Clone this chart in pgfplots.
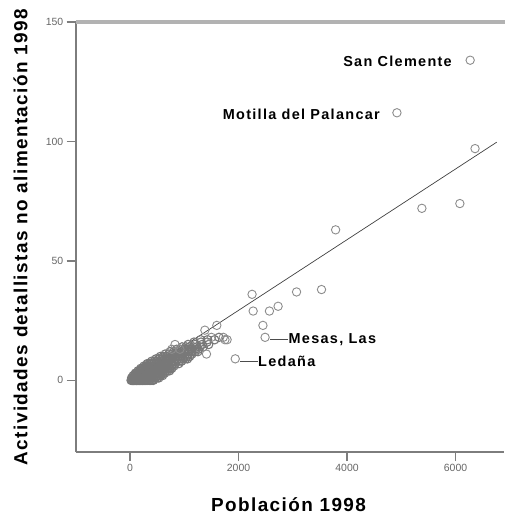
\documentclass[border=0pt]{standalone}
\usepackage{fontspec}
\setmainfont{Liberation Sans}
\newfontfamily\spaced[LetterSpace=7.5]{Liberation Sans}
\newfontfamily\lblfont[LetterSpace=9]{Liberation Sans}
\usepackage{pgfplots}
\pgfplotsset{compat=1.18}

\definecolor{axgray}{RGB}{125,125,125}
\definecolor{topgray}{RGB}{178,178,178}
\definecolor{markgray}{RGB}{120,120,120}

% municipios: poblacion 1998, actividades detallistas no alimentacion 1998
\pgfplotstableread{
x y
20 0
45 0
70 0
95 0
120 0
150 0
180 0
210 0
250 0
290 0
330 0
380 0
430 0
30 1
60 1
90 1
120 1
160 1
200 1
240 1
290 1
340 1
400 1
470 1
530 1
60 2
100 2
140 2
180 2
230 2
280 2
330 2
390 2
450 2
520 2
600 2
100 3
150 3
200 3
250 3
300 3
360 3
420 3
490 3
560 3
640 3
150 4
200 4
260 4
320 4
380 4
440 4
510 4
580 4
660 4
730 4
200 5
260 5
320 5
390 5
460 5
530 5
610 5
690 5
770 5
260 6
330 6
400 6
480 6
560 6
640 6
720 6
810 6
320 7
400 7
480 7
560 7
650 7
740 7
830 7
900 7
400 8
490 8
580 8
670 8
760 8
850 8
950 8
480 9
580 9
680 9
780 9
880 9
980 9
1060 9
560 10
670 10
780 10
890 10
1000 10
1100 10
650 11
780 11
900 11
1020 11
1140 11
740 12
880 12
1010 12
1140 12
1250 12
860 13
1000 13
1130 13
1260 13
960 14
1100 14
1230 14
1350 14
1070 15
1200 15
1330 15
1450 15
1180 16
1310 16
1420 16
1300 17
1430 17
1560 17
1640 18
35 0
60 0
85 0
110 0
135 0
165 0
195 0
230 0
270 0
310 0
355 0
405 0
45 1
75 1
105 1
140 1
180 1
220 1
265 1
315 1
370 1
435 1
500 1
80 2
120 2
160 2
205 2
255 2
305 2
360 2
420 2
485 2
560 2
125 3
175 3
225 3
275 3
330 3
390 3
455 3
525 3
600 3
175 4
230 4
290 4
350 4
410 4
475 4
545 4
620 4
695 4
230 5
290 5
355 5
425 5
495 5
570 5
650 5
730 5
295 6
365 6
440 6
520 6
600 6
680 6
765 6
360 7
440 7
520 7
605 7
695 7
785 7
445 8
535 8
625 8
715 8
805 8
900 8
530 9
630 9
730 9
830 9
930 9
1020 9
615 10
725 10
835 10
945 10
1050 10
715 11
840 11
960 11
1080 11
810 12
945 12
1075 12
1200 12
930 13
1065 13
1195 13
1030 14
1165 14
1290 14
}\cluster

\pgfplotstableread{
x y
6270 134
4920 112
6360 97
5380 72
6080 74
3790 63
2250 36
3070 37
3530 38
2270 29
2570 29
2730 31
2450 23
2490 18
1940 9
1410 11
1600 23
1380 21
1750 17
1720 18
1790 17
1500 18
830 15
770 13
920 13
}\outliers

\begin{document}
\begin{tikzpicture}
\begin{axis}[
  name=ax,
  scale only axis,
  width=428.6bp, height=430bp,
  xmin=-1000, xmax=6900, ymin=-30, ymax=150,
  axis x line*=bottom, axis y line*=left,
  axis line style={draw=axgray, line width=1.6bp, -},
  xtick={0,2000,4000,6000}, ytick={0,50,100,150},
  tick align=outside, major tick length=9bp,
  tick style={draw=axgray, line width=1.4bp},
  tick label style={font=\fontsize{10.5}{12}\selectfont, text=black!60},
  /pgf/number format/assume math mode=true,
  /pgf/number format/1000 sep={},
  xlabel={Población 1998},
  ylabel={Actividades detallistas no alimentación 1998},
  xlabel style={at={(axis description cs:0.4964,-0.1395)}, anchor=base, inner sep=0pt,
    font=\spaced\bfseries\fontsize{19}{22}\selectfont},
  ylabel style={at={(axis description cs:-0.112,0.5)}, anchor=south, inner sep=0pt,
    font=\spaced\bfseries\fontsize{19}{22}\selectfont},
  clip=false,
]
\addplot[only marks, mark=o, mark size=4.2bp, mark options={draw=markgray, line width=1.1bp}]
  table[x=x, y=y] {\cluster};
\addplot[only marks, mark=o, mark size=4.2bp, mark options={draw=markgray!85, line width=0.9bp}]
  table[x=x, y=y] {\outliers};
\addplot[black!75, line width=0.7bp] coordinates {(0,-0.3) (6760,99.7)};

\draw[black!70, line width=0.9bp] (axis cs:2581,17.3) -- (axis cs:2912,17.3);
\draw[black!70, line width=0.9bp] (axis cs:2028,8) -- (axis cs:2360,8);
\node[anchor=west, inner sep=0pt, font=\lblfont\bfseries\fontsize{14.5}{17}\selectfont]
  at (axis cs:2920,16.9) {Mesas, Las};
\node[anchor=west, inner sep=0pt, font=\lblfont\bfseries\fontsize{14.5}{17}\selectfont]
  at (axis cs:2360,7.9) {Ledaña};
\node[anchor=east, inner sep=0pt, font=\lblfont\bfseries\fontsize{14.5}{17}\selectfont]
  at (axis cs:5935,133.5) {San Clemente};
\node[anchor=east, inner sep=0pt, font=\lblfont\bfseries\fontsize{14.5}{17}\selectfont]
  at (axis cs:4608,111.4) {Motilla del Palancar};
\end{axis}
\draw[topgray, line width=3.5bp] (ax.north west) -- ([xshift=2bp]ax.north east);
\pgfresetboundingbox
\path ([shift={(-75.75bp,-65bp)}]ax.south west) rectangle ([shift={(0.5bp,22bp)}]ax.north east);
\end{tikzpicture}
\end{document}
